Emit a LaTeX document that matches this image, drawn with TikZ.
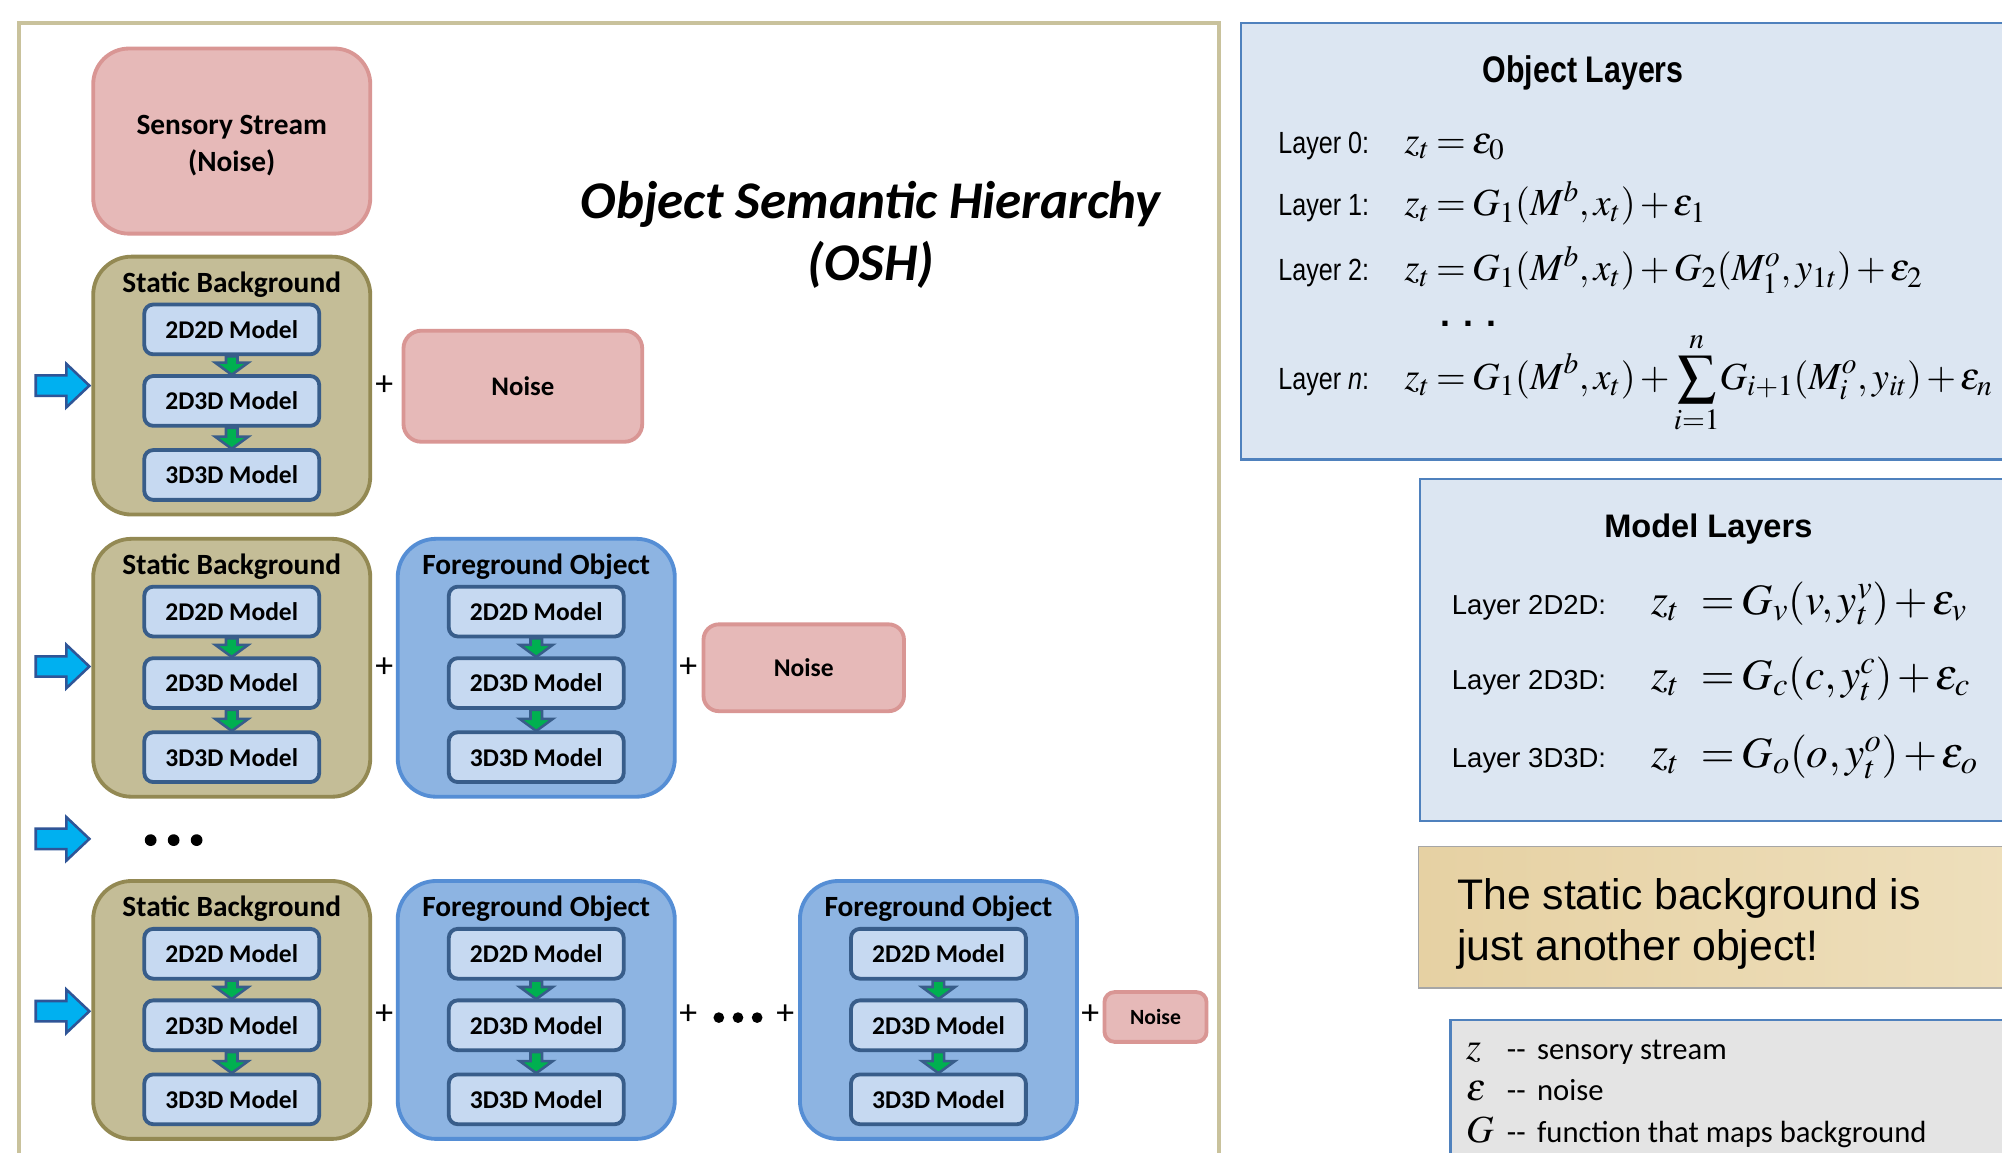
\documentclass[tikz,border=0pt]{standalone}
\usepackage{mathptmx}
\usepackage[no-math]{fontspec}
\setmainfont{Carlito}
\newfontfamily\arialfont{Liberation Sans}
\newfontfamily\narrowfont{Liberation Sans}[FakeStretch=0.82]
\usetikzlibrary{calc}
\DeclareMathSizes{30}{30}{23}{18}
\DeclareMathSizes{34}{34}{25.5}{19}
\definecolor{framec}{HTML}{C9C29C}
\definecolor{pinkf}{HTML}{E6B9B8}
\definecolor{pinkb}{HTML}{D99694}
\definecolor{bgf}{HTML}{C4BD97}
\definecolor{bgb}{HTML}{938953}
\definecolor{fgf}{HTML}{8DB4E2}
\definecolor{fgb}{HTML}{558ED5}
\definecolor{innf}{HTML}{C6D9F1}
\definecolor{innb}{HTML}{385D8A}
\definecolor{greenc}{HTML}{00B050}
\definecolor{cyanc}{HTML}{00B0F0}
\definecolor{cyanb}{HTML}{2F5597}
\definecolor{panelf}{HTML}{DCE6F2}
\definecolor{panelb}{HTML}{4F81BD}
\definecolor{parchl}{HTML}{E6D1A3}
\definecolor{parchr}{HTML}{EEDFBC}
\definecolor{parchb}{HTML}{A6A6A6}
\definecolor{legf}{HTML}{E4E4E4}

\newcommand{\tightmath}{\thickmuskip=3mu plus 1mu\medmuskip=2mu plus 1mu}
\newcommand{\greenarr}[2]{%
  \draw[garrow] ($(#1.south)+(-4.5,0)$) -- ($(#2.north)+(-4.5,-9)$) -- ($(#2.north)+(-13,-9)$) --
    ($(#2.north)+(0,0.5)$) -- ($(#2.north)+(13,-9)$) -- ($(#2.north)+(4.5,-9)$) --
    ($(#1.south)+(4.5,0)$) -- cycle;}
\newcommand{\oshcol}[5]{%
  \node[#4, minimum width=217, minimum height=202] (#1) at (#2,#3+101) {};
  \node[coltitle] (#1t) at (#2,#3+22) {#5};
  \node[innerbox] (#1a) at (#2,#3+57) {2D2D Model};
  \node[innerbox] (#1b) at (#2,#3+113) {2D3D Model};
  \node[innerbox] (#1c) at (#2,#3+171) {3D3D Model};
  \greenarr{#1a}{#1b}
  \greenarr{#1b}{#1c}}
\newcommand{\bluearr}[1]{%
  \draw[barrow] (28,#1-8) -- (52,#1-8) -- (52,#1-17) -- (70,#1) -- (52,#1+17) -- (52,#1+8) -- (28,#1+8) -- cycle;}

\begin{document}
\begin{tikzpicture}[x=1pt,y=-1pt,
  pinkbox/.style={draw=pinkb, fill=pinkf, line width=3, align=center, font=\bfseries},
  bgbox/.style={draw=bgb, fill=bgf, line width=3, rounded corners=30},
  fgbox/.style={draw=fgb, fill=fgf, line width=3, rounded corners=30},
  innerbox/.style={draw=innb, fill=innf, line width=3, rounded corners=7, minimum width=137, minimum height=39, font=\fontsize{20}{24}\selectfont\bfseries},
  coltitle/.style={font=\fontsize{23}{27}\selectfont\bfseries, inner sep=0},
  garrow/.style={fill=greenc, draw=innb, line width=2},
  barrow/.style={fill=cyanc, draw=cyanb, line width=2},
  plus/.style={font=\fontsize{28}{30}\selectfont, inner sep=0},
  panel/.style={fill=panelf, draw=panelb, line width=2},
  lab/.style={anchor=base west, inner sep=0, font=\narrowfont\fontsize{24}{28}\selectfont},
  eq/.style={anchor=base west, inner sep=0, font=\fontsize{30}{36}\selectfont\tightmath},
  mlab/.style={anchor=base west, inner sep=0, font=\arialfont\fontsize{21.5}{26}\selectfont},
  meq/.style={anchor=base west, inner sep=0, font=\fontsize{34}{40}\selectfont\tightmath},
  notetxt/.style={anchor=base west, inner sep=0, font=\arialfont\fontsize{33.5}{40}\selectfont},
  legtxt/.style={anchor=base west, inner sep=0, font=\fontsize{24}{28}\selectfont},
  legsym/.style={anchor=base west, inner sep=0, font=\fontsize{30}{34}\selectfont},
  dot/.style={fill=black}]
\useasboundingbox (0,0) rectangle (1568,903);
\fill[white] (0,0) rectangle (1568,903);

% left frame
\draw[framec, line width=3] (15,930) -- (15,18) -- (955,18) -- (955,930);

% sensory stream
\node[pinkbox, rounded corners=28, minimum width=217, minimum height=145] (sens) at (181.5,110.5) {};
\node[font=\fontsize{23}{29.5}\selectfont\bfseries, align=center, yshift=-3.5pt] (senst) at (sens.center) {Sensory Stream\\(Noise)};

% title
\node[font=\fontsize{41.5}{49}\selectfont\bfseries\itshape, align=center] (title) at (682,184) {Object Semantic Hierarchy\\(OSH)};

% row 1
\oshcol{ra}{181.5}{201}{bgbox}{Static Background}
\bluearr{302}
\node[plus] (pa1) at (301,302) {+};
\node[pinkbox, rounded corners=14, minimum width=187, minimum height=87, font=\fontsize{21}{25}\selectfont\bfseries] (noise1) at (409.5,302.5) {Noise};

% row 2
\oshcol{rb}{181.5}{422}{bgbox}{Static Background}
\oshcol{rbf}{420}{422}{fgbox}{Foreground Object}
\bluearr{522}
\node[plus] (pb1) at (301,523) {+};
\node[plus] (pb2) at (539,523) {+};
\node[pinkbox, rounded corners=12, minimum width=157, minimum height=68, font=\fontsize{20}{24}\selectfont\bfseries] (noise2) at (629.5,523) {Noise};

% dots row
\bluearr{657}
\fill[dot] (118,658) circle (4.6) (136,658) circle (4.6) (154,658) circle (4.6);

% row 3
\oshcol{rc}{181.5}{690}{bgbox}{Static Background}
\oshcol{rcf}{420}{690}{fgbox}{Foreground Object}
\oshcol{rcg}{735}{690}{fgbox}{Foreground Object}
\bluearr{792}
\node[plus] (pc1) at (301,795) {+};
\node[plus] (pc2) at (539,795) {+};
\fill[dot] (563,797) circle (4.2) (578,797) circle (4.2) (593,797) circle (4.2);
\node[plus] (pc3) at (615,795) {+};
\node[plus] (pc4) at (854,795) {+};
\node[pinkbox, rounded corners=8, minimum width=80, minimum height=39, font=\fontsize{17}{20}\selectfont\bfseries] (noise3) at (905,796.5) {Noise};

% Object Layers panel
\draw[panel] (972,18) rectangle (1580,360);
\node[font=\narrowfont\fontsize{29}{33}\selectfont\bfseries] (olt) at (1240,57) {Object Layers};
\node[lab] (l0) at (1001,120) {Layer 0:};
\node[eq] (e0) at (1100,120) {$z_t = \varepsilon_0$};
\node[lab] (l1) at (1001,169) {Layer 1:};
\node[eq] (e1) at (1100,169) {$z_t = G_1(M^b, x_t) + \varepsilon_1$};
\node[lab] (l2) at (1001,220) {Layer 2:};
\node[eq] (e2) at (1100,220) {$z_t = G_1(M^b, x_t) + G_2(M^o_1, y_{1t}) + \varepsilon_2$};
\node[inner sep=0, font=\arialfont\fontsize{28}{30}\selectfont\bfseries] (edots) at (1150,254) {. . .};
\node[lab] (ln) at (1001,305) {Layer \textit{n}:};
\node[eq] (en) at (1100,305) {$\displaystyle z_t = G_1(M^b, x_t) + \sum_{i=1}^{n}\! G_{i+1}(M^o_i, y_{it}) + \varepsilon_n$};

% Model Layers panel
\draw[panel] (1112,375) rectangle (1580,643);
\node[font=\arialfont\fontsize{25.5}{30}\selectfont\bfseries] (mlt) at (1338,414) {Model Layers};
\node[mlab] (m1) at (1137,481) {Layer 2D2D:};
\node[meq] (me1) at (1293,481) {$z_t \;\;= G_v(v, y_t^v) + \varepsilon_v$};
\node[mlab] (m2) at (1137,540) {Layer 2D3D:};
\node[meq] (me2) at (1293,540) {$z_t \;\;= G_c(c, y_t^c) + \varepsilon_c$};
\node[mlab] (m3) at (1137,601) {Layer 3D3D:};
\node[meq] (me3) at (1293,601) {$z_t \;\;= G_o(o, y_t^o) + \varepsilon_o$};

% parchment note
\shade[left color=parchl, right color=parchr] (1111,663) rectangle (1580,774);
\draw[draw=parchb, line width=1.5] (1111,663) rectangle (1580,774);
\node[notetxt] (note1) at (1141,712) {The static background is};
\node[notetxt] (note2) at (1141,752) {just another object!};

% legend
\draw[fill=legf, draw=panelb, line width=2] (1136,799) rectangle (1580,930);
\node[legsym] (s1) at (1148,830) {$z$};
\node[legtxt] (t1) at (1180,830) {-{}-\hspace{9pt}sensory stream};
\node[legsym] (s2) at (1148,862) {$\varepsilon$};
\node[legtxt] (t2) at (1180,862) {-{}-\hspace{9pt}noise};
\node[legsym] (s3) at (1148,895) {$G$};
\node[legtxt] (t3) at (1180,895) {-{}-\hspace{9pt}function that maps background};
\end{tikzpicture}
\end{document}
